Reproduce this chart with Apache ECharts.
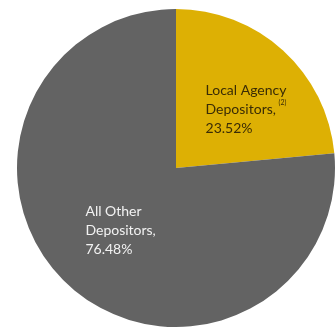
<!DOCTYPE html>
<html><head><meta charset="utf-8">
<script src="https://cdn.jsdelivr.net/npm/echarts@6/dist/echarts.min.js"></script>
<style>html,body{margin:0;padding:0;background:#fff}#c{width:336px;height:331px}</style>
</head><body><div id="c"></div>
<script>
const categories = ['Local Agency Depositors', 'All Other Depositors'];
const values = [23.52, 76.48];
const colors = ['#DDB004', '#636363'];
const footnotes = ['(2)', ''];

const chart = echarts.init(document.getElementById('c'), null, {renderer: 'canvas'});
const W = [92, 78];
const DW = 73;
chart.setOption({
  animation: false,
  series: [{
    type: 'pie',
    center: [176, 168],
    radius: [0, 159],
    startAngle: 90,
    clockwise: true,
    silent: true,
    label: {
      position: 'inner',
      fontFamily: 'Lato',
      fontSize: 14,
      lineHeight: 19
    },
    labelLine: {show: false},
    data: categories.map((c, i) => {
      const words = c.split(' ');
      const first = words.slice(0, -1).join(' ');
      const last = words[words.length - 1];
      const col = i === 0 ? '#3a2c06' : '#f2f2f2';
      const line2 = footnotes[i] ? '{d|' + last + ',}{sup|' + footnotes[i] + '}' : '{t|' + last + ',}';
      return {
        name: c,
        value: values[i],
        itemStyle: {color: colors[i]},
        label: {
          formatter: '{t|' + first + '}\n' + line2 + '\n{t|' + values[i].toFixed(2) + '%}',
          offset: i === 0 ? [20, 2] : [4, 1],
          rich: {
            t: {fontFamily: 'Lato', fontSize: 14, lineHeight: 19, color: col, width: W[i], align: 'left'},
            d: {fontFamily: 'Lato', fontSize: 14, lineHeight: 19, color: col, width: DW, align: 'left'},
            sup: {fontFamily: 'Lato', fontSize: 7, lineHeight: 19, color: col, width: W[i] - DW, align: 'left', verticalAlign: 'top', padding: [0, 0, 12, 0]}
          }
        }
      };
    })
  }]
});
</script></body></html>
